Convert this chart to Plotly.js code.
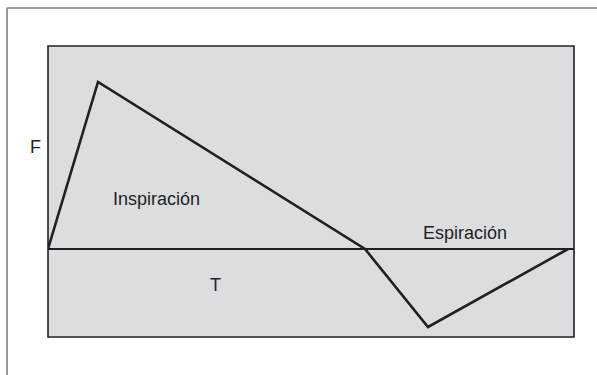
<!DOCTYPE html>
<html>
<head>
<meta charset="utf-8">
<script src="https://cdn.plot.ly/plotly-3.0.1.min.js"></script>
<style>html,body{margin:0;padding:0;background:#fff;}#chart{width:597px;height:375px;}</style>
</head>
<body>
<div id="chart"></div>
<script>
// Time points (arbitrary units) and flow values (arbitrary units)
const timePts = [0, 50, 317, 380, 520];
const flowVals = [0, 167, 0, -78, 0];
const labelInsp = "Inspiración";
const labelEsp = "Espiración";
const axisF = "F";
const axisT = "T";

const ink = '#231f20';
const trace = {
  x: timePts, y: flowVals, mode: 'lines', type: 'scatter',
  line: {color: ink, width: 2.6}, hoverinfo: 'skip', cliponaxis: false
};

const W = 526, H = 291, L = 48, T = 46;
const px = v => (v - L) / W;
const py = v => (T + H - v) / H;

const layout = {
  width: 597, height: 375,
  margin: {l: L, r: 597 - L - W, t: T, b: 375 - T - H, pad: 0},
  paper_bgcolor: '#ffffff', plot_bgcolor: '#dcdde0',
  showlegend: false,
  xaxis: {range: [0, 526], showgrid: false, zeroline: false, showticklabels: false, ticks: '', showline: false, fixedrange: true},
  yaxis: {range: [-88, 203], showgrid: false, zeroline: true, zerolinecolor: ink, zerolinewidth: 2.2, showticklabels: false, ticks: '', showline: false, fixedrange: true},
  font: {family: 'Liberation Sans, Arial, sans-serif', color: ink},
  shapes: [
    {type: 'rect', xref: 'paper', yref: 'paper', x0: 0, x1: 1, y0: 0, y1: 1, line: {color: ink, width: 1.6}},
    {type: 'line', xref: 'paper', yref: 'paper', x0: px(7), x1: px(597), y0: py(8), y1: py(8), line: {color: '#9a9a9a', width: 2}},
    {type: 'line', xref: 'paper', yref: 'paper', x0: px(7), x1: px(7), y0: py(8), y1: py(376), line: {color: '#9a9a9a', width: 2}}
  ],
  annotations: [
    {text: labelInsp, x: 108, y: 50, xref: 'x', yref: 'y', xanchor: 'center', yanchor: 'middle', showarrow: false, font: {size: 18, color: ink}},
    {text: labelEsp, x: 417, y: 16.5, xref: 'x', yref: 'y', xanchor: 'center', yanchor: 'middle', showarrow: false, font: {size: 18, color: ink}},
    {text: axisT, x: 167, y: -36, xref: 'x', yref: 'y', xanchor: 'center', yanchor: 'middle', showarrow: false, font: {size: 18, color: ink}},
    {text: axisF, x: px(35), y: 102, xref: 'paper', yref: 'y', xanchor: 'center', yanchor: 'middle', showarrow: false, font: {size: 18, color: ink}}
  ]
};

Plotly.newPlot('chart', [trace], layout, {staticPlot: true, displayModeBar: false});
</script>
</body>
</html>
